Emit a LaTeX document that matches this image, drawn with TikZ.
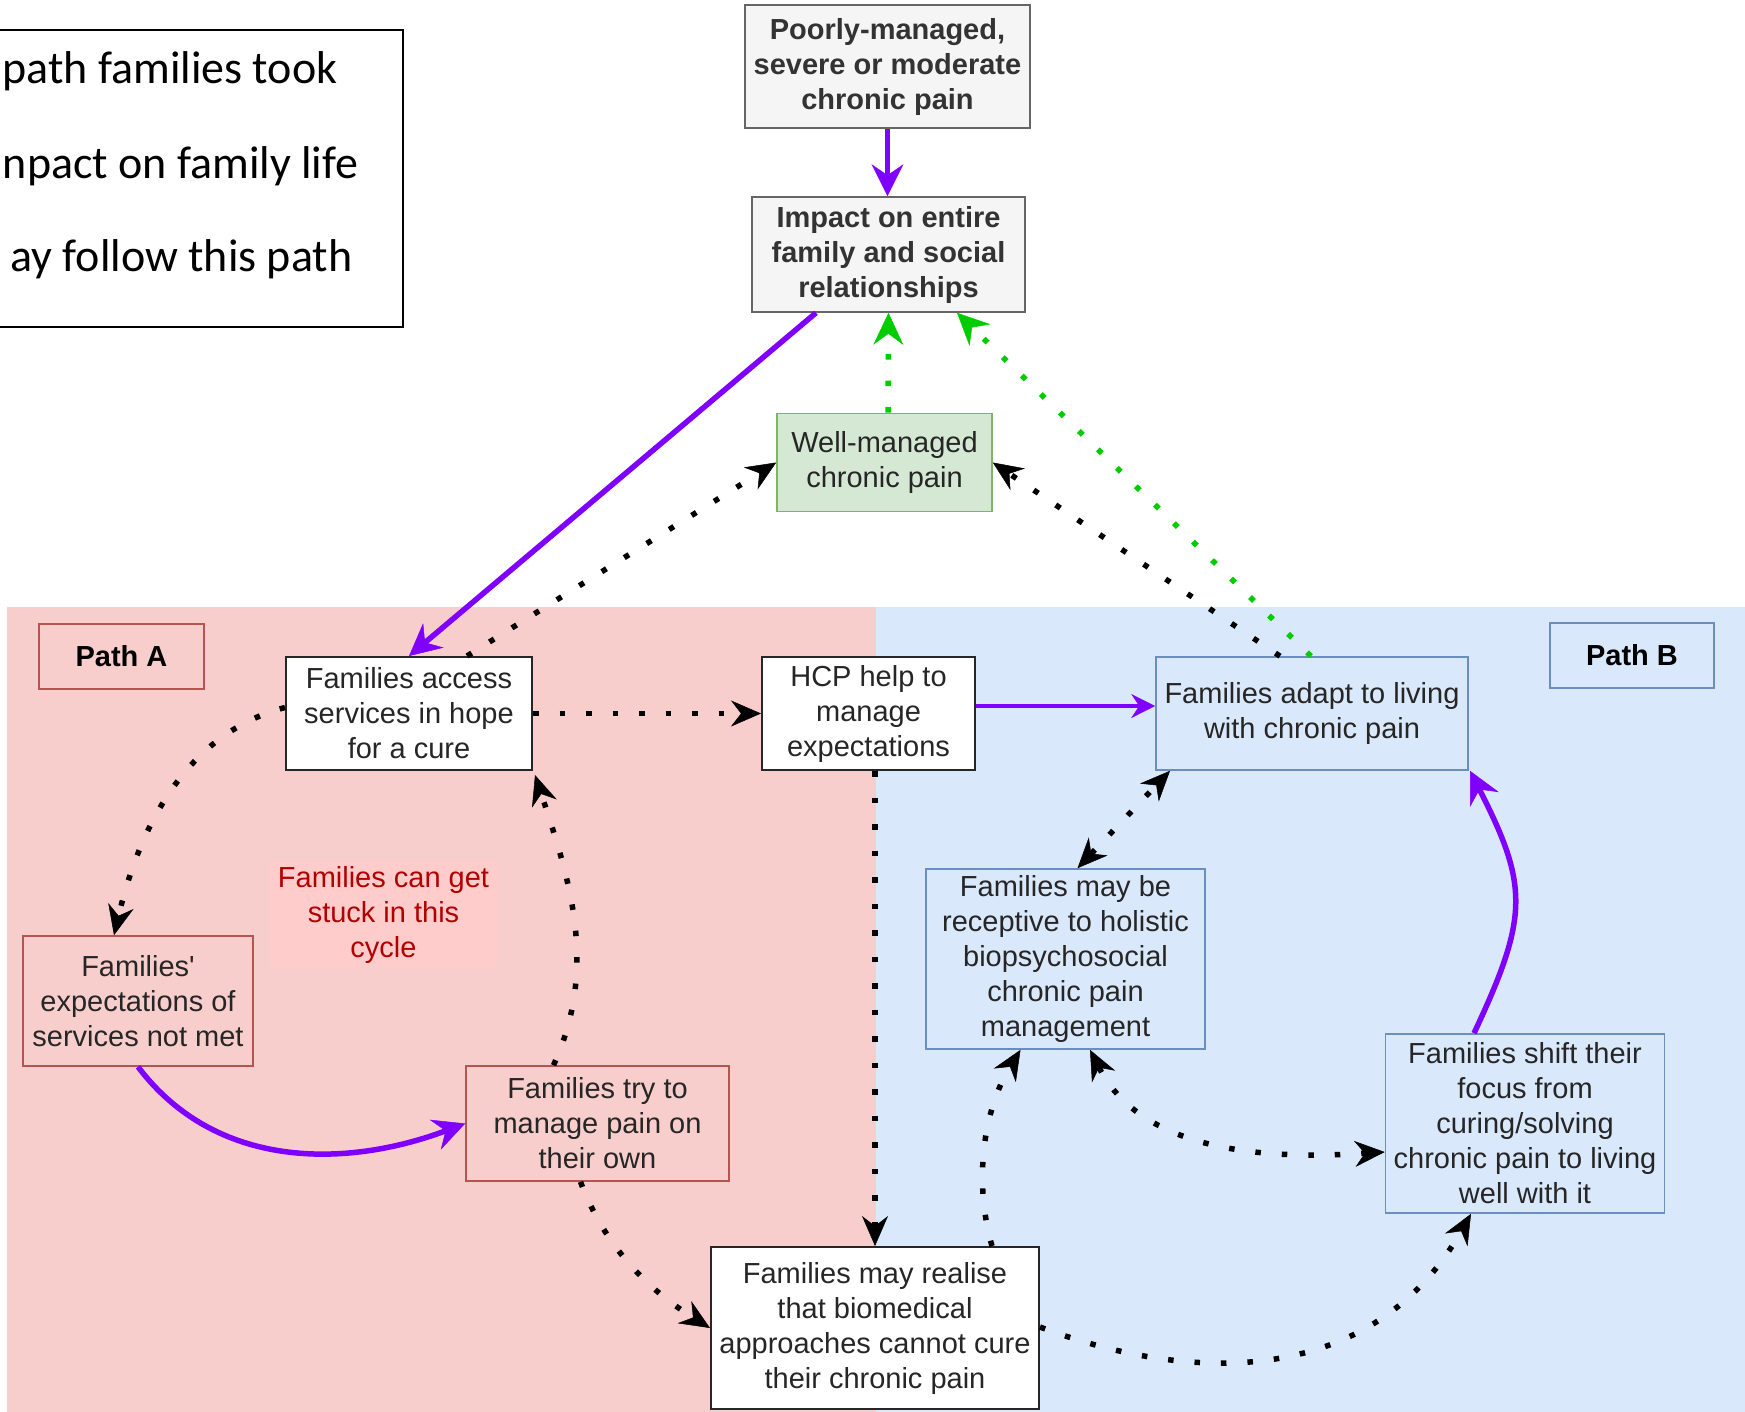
\documentclass[tikz,border=0pt]{standalone}
\usepackage{fontspec}
\setmainfont{Liberation Sans}
\newfontfamily\legendfont{Carlito}
\usetikzlibrary{arrows.meta}

\definecolor{purpleline}{HTML}{7F00FF}
\definecolor{greenline}{HTML}{00CC00}
\definecolor{pinkfill}{HTML}{F8CECC}
\definecolor{pinkline}{HTML}{B85450}
\definecolor{bluefill}{HTML}{DAE8FC}
\definecolor{blueline}{HTML}{6C8EBF}
\definecolor{greenfill}{HTML}{D5E8D4}
\definecolor{greenedge}{HTML}{82B366}
\definecolor{grayfill}{HTML}{F5F5F5}
\definecolor{grayline}{HTML}{666666}
\definecolor{graytext}{HTML}{333333}
\definecolor{stuckfill}{HTML}{FFCCCC}
\definecolor{stucktext}{HTML}{B20000}

\tikzset{
    box/.style={draw, line width=1.6pt, inner sep=0pt, align=center, text=black!85,
        font=\fontsize{29}{35}\selectfont},
    whitebox/.style={box, fill=white, draw=black!85, line width=2pt},
    pinkbox/.style={box, fill=pinkfill, draw=pinkline},
    bluebox/.style={box, fill=bluefill, draw=blueline},
    greenbox/.style={box, fill=greenfill, draw=greenedge},
    graybox/.style={box, fill=grayfill, draw=grayline, text=graytext,
        font=\fontsize{29}{35}\selectfont\bfseries},
    pathbox/.style={box, text=black, font=\fontsize{29}{35}\selectfont\bfseries},
    legendtext/.style={anchor=base east, font=\legendfont\fontsize{46}{56}\selectfont},
    flow/.style={draw=purpleline, line width=5.5pt,
        -{Stealth[length=32pt, width=32pt, inset=11pt, line width=0.5pt]}},
    flowthin/.style={draw=purpleline, line width=3.5pt,
        -{Stealth[length=24pt, width=24pt, inset=8pt, line width=0.5pt]}},
    maybe/.style={draw=black, line width=5.5pt, dash pattern=on 5.5pt off 21pt,
        -{Stealth[length=30pt, width=26pt, inset=10pt, line width=0.5pt]}},
    maybeboth/.style={maybe,
        {Stealth[length=30pt, width=26pt, inset=10pt, line width=0.5pt]}-{Stealth[length=30pt, width=26pt, inset=10pt, line width=0.5pt]}},
    hope/.style={draw=greenline, line width=5.5pt, dash pattern=on 5.5pt off 21pt,
        -{Stealth[length=32pt, width=30pt, inset=11pt, line width=0.5pt]}}
}

\begin{document}
\begin{tikzpicture}[x=1pt, y=-1pt]
    \useasboundingbox (0,0) rectangle (1745,1411);
    \clip (0,0) rectangle (1745,1411);

    % Backgrounds
    \fill[pinkfill] (7,607) rectangle (876,1420);
    \fill[bluefill] (876,607) rectangle (1750,1420);

    % Legend (cut at the left edge)
    \draw[line width=2.5pt] (-10,30) rectangle (403,327);
    \node[legendtext] (legend1) at (341,83) {path families took};
    \node[legendtext] (legend2) at (362,178) {npact on family life};
    \node[legendtext] (legend3) at (356,271) {ay follow this path};

    % Top of the diagram
    \node[graybox, minimum width=285pt, minimum height=123pt] (poorly) at (887.5,66.5) {Poorly-managed,\\severe or moderate\\chronic pain};
    \node[graybox, minimum width=273pt, minimum height=115pt] (impact) at (888.5,254.5) {Impact on entire\\family and social\\relationships};
    \node[greenbox, minimum width=215pt, minimum height=98pt] (wellmgd) at (884.5,462.5) {Well-managed\\chronic pain};

    % Path A
    \node[pinkbox, pathbox, minimum width=165pt, minimum height=65pt] (pathA) at (121.5,656.5) {Path A};
    \node[whitebox, minimum width=246pt, minimum height=113pt] (access) at (409,713.5) {Families access\\services in hope\\for a cure};
    \node[pinkbox, minimum width=230pt, minimum height=130pt] (expect) at (138,1001) {Families\textquotesingle\\expectations of\\services not met};
    \node[pinkbox, minimum width=263pt, minimum height=115pt] (tryown) at (597.5,1123.5) {Families try to\\manage pain on\\their own};
    \node[box, draw=none, fill=stuckfill, text=stucktext, minimum width=227pt, minimum height=106pt] (stuck) at (383.5,915) {Families can get\\stuck in this\\cycle};

    % Middle
    \node[whitebox, minimum width=213pt, minimum height=113pt] (hcp) at (868.5,713.5) {HCP help to\\manage\\expectations};
    \node[whitebox, minimum width=328pt, minimum height=162pt] (realise) at (875,1328) {Families may realise\\that biomedical\\approaches cannot cure\\their chronic pain};

    % Path B
    \node[bluebox, pathbox, minimum width=164pt, minimum height=65pt] (pathB) at (1632,655.5) {Path B};
    \node[bluebox, minimum width=312pt, minimum height=113pt] (adapt) at (1312,713.5) {Families adapt to living\\with chronic pain};
    \node[bluebox, minimum width=279pt, minimum height=180pt] (receptive) at (1065.5,959) {Families may be\\receptive to holistic\\biopsychosocial\\chronic pain\\management};
    \node[bluebox, minimum width=279pt, minimum height=179pt] (shift) at (1525,1123.5) {Families shift their\\focus from\\curing/solving\\chronic pain to living\\well with it};

    % Connectors at the top
    \draw[flow] (poorly.south) -- (poorly.south |- impact.north);
    \draw[flow] ([xshift=-72.5pt]impact.south) -- (access.north);
    \draw[hope] ([xshift=3.5pt]wellmgd.north) -- (impact.south);
    \draw[hope] ([xshift=-1pt]adapt.north) -- ([xshift=68.5pt]impact.south);
    \draw[maybe] ([xshift=58pt]access.north) -- (wellmgd.west);
    \draw[maybe] ([xshift=-32pt]adapt.north) -- (wellmgd.east);

    % Path A cycle
    \draw[maybe] ([yshift=6pt]access.west) .. controls (180,735) and (137,838) .. ([xshift=-24pt]expect.north);
    \draw[flow] (expect.south) .. controls (216,1170) and (346,1168) .. (tryown.west);
    \draw[maybe] ([xshift=-44pt]tryown.north) .. controls (599,966) and (569,878) .. ([shift={(2pt,-4pt)}]access.south east);
    \draw[maybe] ([xshift=-17pt]tryown.south) .. controls (608,1256) and (660,1297) .. (realise.west);

    % Middle connectors
    \draw[maybe] (access.east) -- (hcp.west);
    \draw[flowthin] ([yshift=7.5pt]hcp.east) -- ([yshift=7.5pt]adapt.west);
    \draw[maybe] ([xshift=6.5pt]hcp.south) -- (realise.north);

    % Path B connectors
    \draw[maybe] ([xshift=117pt]realise.north) .. controls (973,1180) and (984,1109) .. ([xshift=-45pt]receptive.south);
    \draw[maybeboth] ([xshift=24.5pt]receptive.south) .. controls (1146,1160) and (1290,1158) .. ([yshift=-28.5pt]shift.west);
    \draw[maybeboth] ([xshift=12pt]receptive.north) -- ([xshift=-142pt]adapt.south);
    \draw[flow] ([xshift=-51pt]shift.north) .. controls (1529,916) and (1528.5,886) .. ([xshift=158pt]adapt.south);
    \draw[maybe] ([yshift=1pt]realise.east) .. controls (1208,1390) and (1378,1378) .. ([xshift=-54pt]shift.south);
\end{tikzpicture}
\end{document}
